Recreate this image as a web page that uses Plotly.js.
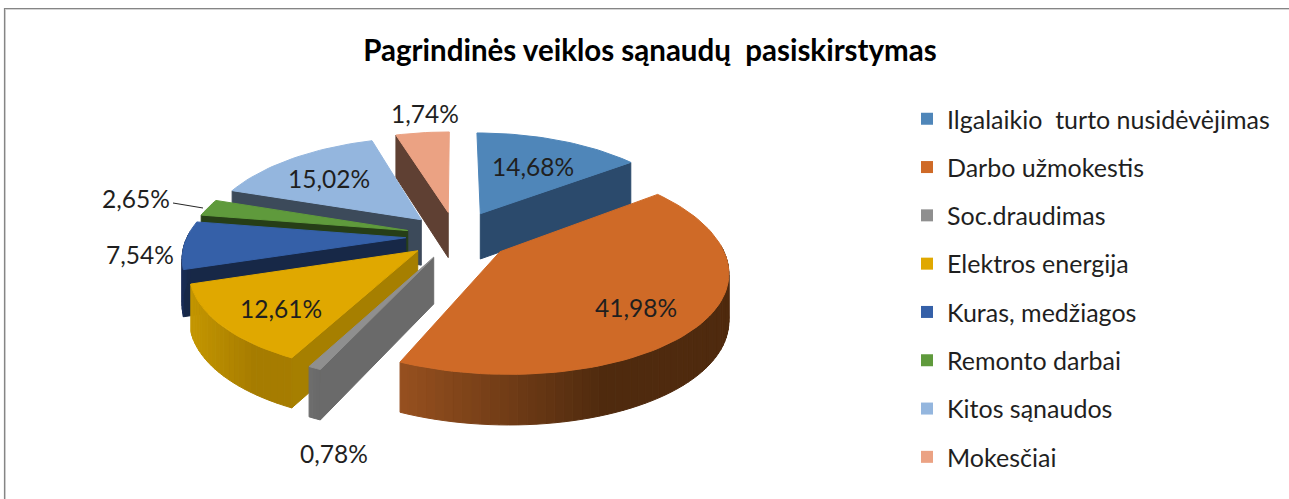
<!DOCTYPE html>
<html><head><meta charset="utf-8">
<script src="https://cdn.plot.ly/plotly-3.0.1.min.js"></script>
<style>html,body{margin:0;padding:0;background:#fff}#c{width:1289px;height:499px}</style>
</head><body><div id="c"></div>
<script>
// DATA
const categories = ["Ilgalaikio  turto nusidėvėjimas","Darbo užmokestis","Soc.draudimas","Elektros energija","Kuras, medžiagos","Remonto darbai","Kitos sąnaudos","Mokesčiai"];
// Angular shares as drawn; the last slice is drawn larger than its printed label.
const values = [14.68,41.98,0.78,12.61,7.54,2.65,15.02,4.74];
const valueLabels = ["14,68%","41,98%","0,78%","12,61%","7,54%","2,65%","15,02%","1,74%"];
const chartTitle = "Pagrindinės veiklos sąnaudų  pasiskirstymas";
// STYLE
const topColors = ["#4f86b9","#cf6a27","#8f8f8f","#e0a800","#3560a8","#5f9a3c","#94b6de","#eba283"];
const wallColors = ["#2b4a6c","#7a3d16","#6a6a6a","#a67f00","#172847","#263e17","#3c4a5a","#5f4033"];
const rimLeft = ["#2b4a6c","#96501f","#6e6e6e","#c49600","#1a2e58","#263e17","#3c4a5a","#5f4033"];
const rimRight = ["#2b4a6c","#4f2a0e","#6a6a6a","#a67c00","#172847","#263e17","#3c4a5a","#5f4033"];
const pulls = [0.26,0.25,0.23,0.225,0.23,0.23,0.235,0.25];
const labelX = [533,636,334,281,140,136,329,425];
const labelY = [166,307,453,308,254,198,178,113];
const cx=456, cy=236, R=222, k=0.446, perspX=0.17, perspXOrigin=-0.1, perspY=0.15, H=46;
const FONT="Lato, 'Open Sans', sans-serif";

function proj(X,Y,Z){
  const sx=1/(1+perspX*(Y-perspXOrigin)), sy=1/(1+perspY*Y);
  return [cx+R*X*sx, cy-R*k*Y*sy+H*Z*Math.sqrt(sy)];
}
function hex(c){return [1,3,5].map(i=>parseInt(c.substr(i,2),16));}
function mix(a,b,t){const A=hex(a),B=hex(b);return 'rgb('+A.map((v,i)=>Math.round(v+(B[i]-v)*t)).join(',')+')';}
function poly(pts,color,name,extra){
  return Object.assign({type:'scatter',mode:'lines',x:pts.map(p=>p[0]).concat(pts[0][0]),y:pts.map(p=>p[1]).concat(pts[0][1]),
    fill:'toself',fillcolor:color,line:{color:color,width:1},hoverinfo:'skip',showlegend:false,name:name},extra||{});
}
const total=values.reduce((a,b)=>a+b,0);
let acc=0;
const slices=values.map((v,i)=>{const t0=acc/total*2*Math.PI;acc+=v;const t1=acc/total*2*Math.PI;return {i,t0,t1,mid:(t0+t1)/2};});
slices.sort((a,b)=>Math.cos(b.mid)-Math.cos(a.mid));
const traces=[];
slices.forEach(s=>{
  const i=s.i,ax=pulls[i]*Math.sin(s.mid),ay=pulls[i]*Math.cos(s.mid);
  const n=Math.max(3,Math.ceil((s.t1-s.t0)/(Math.PI/90)));
  const ang=[];for(let j=0;j<=n;j++)ang.push(s.t0+(s.t1-s.t0)*j/n);
  const pt=(t,Z)=>proj(ax+Math.sin(t),ay+Math.cos(t),Z);
  const apex=Z=>proj(ax,ay,Z);
  // radial walls facing the viewer
  if(Math.sin(s.t0)<0) traces.push(poly([apex(0),pt(s.t0,0),pt(s.t0,1),apex(1)],wallColors[i],categories[i]));
  if(-Math.sin(s.t1)<0) traces.push(poly([apex(0),pt(s.t1,0),pt(s.t1,1),apex(1)],wallColors[i],categories[i]));
  // rim, shaded left to right
  const xs=ang.map(t=>pt(t,0)[0]),xmin=Math.min(...xs),xmax=Math.max(...xs);
  for(let j=0;j<n;j++){
    const a=ang[j],b=ang[j+1];
    if(Math.cos((a+b)/2)<0.05){
      const q=[pt(a,0),pt(b,0),pt(b,1),pt(a,1)];
      const tt=(q[0][0]+q[1][0])/2;
      const f=xmax>xmin?Math.min(1,(tt-xmin)/(xmax-xmin)/0.62):0;
      traces.push(poly(q,mix(rimLeft[i],rimRight[i],f),categories[i]));
    }
  }
  // top face
  traces.push(poly([apex(0)].concat(ang.map(t=>pt(t,0))),topColors[i],categories[i],{hoverinfo:'text',text:valueLabels[i]}));
});
// legend entries
categories.forEach((c,i)=>traces.push({type:'scatter',mode:'markers',x:[-50],y:[-50],name:c,legendgroup:c,
  marker:{symbol:'square',size:14,color:topColors[i]},showlegend:true,hoverinfo:'skip'}));

const annotations=valueLabels.map((t,i)=>({text:t,x:labelX[i],y:labelY[i],xref:'x',yref:'y',showarrow:false,
  font:{family:FONT,size:24.5,color:'#1f1f1f'},xanchor:'center',yanchor:'middle'}));
const layout={width:1289,height:499,margin:{l:0,r:0,t:0,b:0,autoexpand:false},paper_bgcolor:'#fff',plot_bgcolor:'#fff',
  title:{text:chartTitle,x:650/1289,xanchor:'center',y:1-51/499,yanchor:'middle',font:{family:FONT,size:29.5,color:'#000',weight:700}},
  xaxis:{range:[0,1289],visible:false,fixedrange:true},
  yaxis:{range:[499,0],visible:false,fixedrange:true},
  legend:{x:907/1289,y:1-96/499,xanchor:'left',yanchor:'top',traceorder:'grouped',tracegroupgap:12.8,itemsizing:'constant',
    font:{family:FONT,size:25,color:'#1f1f1f'},bgcolor:'rgba(0,0,0,0)',itemclick:false,itemdoubleclick:false},
  annotations:annotations,
  shapes:[
   {type:'line',xref:'x',yref:'y',x0:4,x1:1289,y0:9.5,y1:9.5,line:{color:'#d4d4d4',width:1}},
   {type:'line',xref:'x',yref:'y',x0:5.5,x1:5.5,y0:9,y1:499,line:{color:'#d4d4d4',width:1}},
   {type:'line',xref:'x',yref:'y',x0:4,x1:1289,y0:8.5,y1:8.5,line:{color:'#858585',width:1.2}},
   {type:'line',xref:'x',yref:'y',x0:4.5,x1:4.5,y0:8,y1:499,line:{color:'#858585',width:1.2}},
   {type:'line',xref:'x',yref:'y',x0:173,x1:203,y0:203,y1:208,line:{color:'#262626',width:1}}
  ]};
Plotly.newPlot('c',traces,layout,{displayModeBar:false});
</script></body></html>
